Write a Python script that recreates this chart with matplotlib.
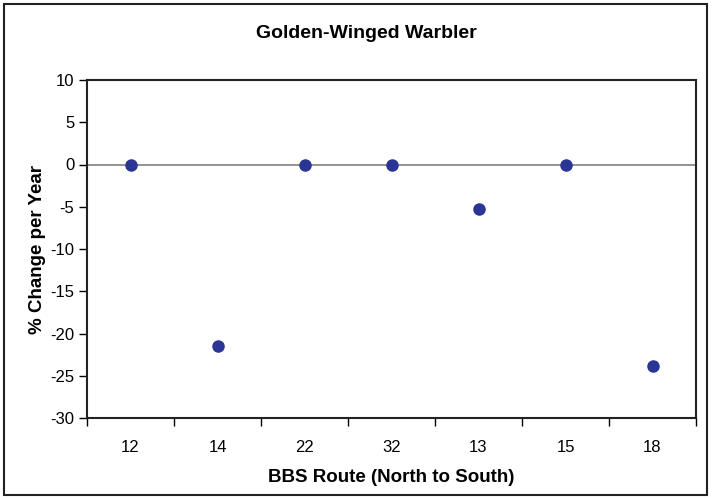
import numpy as np
import matplotlib.pyplot as plt
from matplotlib.patches import Rectangle

plt.rcParams['font.family'] = ['Liberation Sans', 'DejaVu Sans']
plt.rcParams['axes.unicode_minus'] = False

# Data
routes = ['12', '14', '22', '32', '13', '15', '18']
change = [0, -21.5, 0, 0, -5.3, 0, -23.8]

W, H = 712, 499
fig = plt.figure(figsize=(W / 100, H / 100), dpi=100)
ax = fig.add_axes([87 / W, 1 - 418 / H, (696 - 87) / W, (418 - 80) / H])

x = np.arange(len(routes))
ax.plot(x, change, 'o', color='#2B3595', markersize=8, zorder=3, clip_on=False)
ax.axhline(0, color='#808080', linewidth=1.2, zorder=2)

ax.set_xlim(-0.5, len(routes) - 0.5)
ax.set_ylim(-30, 10)
ax.set_yticks(np.arange(-30, 11, 5))
ax.set_xticks(np.arange(-0.5, len(routes), 1))
ax.set_xticklabels([])
ax.set_xticks(x, minor=True)
ax.set_xticklabels(routes, minor=True)
ax.tick_params(axis='x', which='minor', length=0, pad=16)
ax.tick_params(axis='x', which='major', length=6, width=1, direction='out')
ax.tick_params(axis='y', length=6, width=1, direction='out', pad=3)
ax.tick_params(which='both', labelsize=12)

for s in ax.spines.values():
    s.set_linewidth(1.5)
    s.set_color('#222222')

fig.text(366 / W, 1 - 33 / H, 'Golden-Winged Warbler', fontsize=14, fontweight='bold',
         ha='center', va='center')
ax.set_xlabel('BBS Route (North to South)', fontsize=13.5, fontweight='bold')
ax.xaxis.set_label_coords(0.5, -(478 - 418) / (418 - 80))
ax.xaxis.label.set_va('center')
ax.set_ylabel('% Change per Year', fontsize=13.5, fontweight='bold')
ax.yaxis.set_label_coords(-(87 - 38) / (696 - 87), 0.5)
ax.yaxis.label.set_va('center')

# outer frame
fig.patches.append(Rectangle((4 / W, 4 / H), 703 / W, 491 / H, transform=fig.transFigure,
                             fill=False, edgecolor='#222222', linewidth=1.5))

fig.savefig('out.png', dpi=100)
